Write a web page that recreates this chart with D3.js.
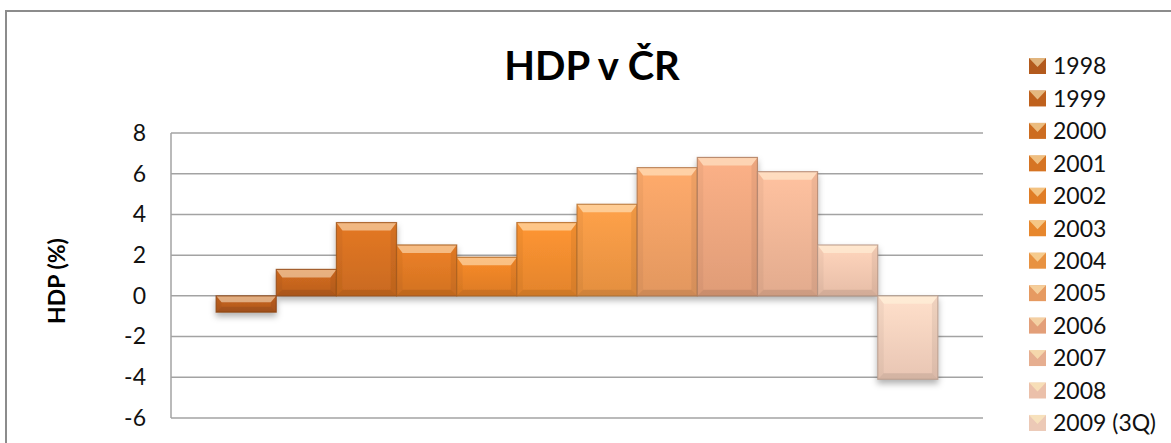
<!DOCTYPE html>
<html>
<head>
<meta charset="utf-8">
<script src="https://cdn.jsdelivr.net/npm/d3@7"></script>
<style>
  body { margin: 0; background: #fff; }
  svg { display: block; font-family: Lato, "Open Sans", sans-serif; }
</style>
</head>
<body>
<svg id="chart" width="1171" height="443"></svg>
<script>
// data
var years = ["1998", "1999", "2000", "2001", "2002", "2003", "2004", "2005", "2006", "2007", "2008", "2009 (3Q)"];
var growth = [-0.8, 1.3, 3.6, 2.5, 1.9, 3.6, 4.5, 6.3, 6.8, 6.1, 2.5, -4.1];
var yTicks = [-6, -4, -2, 0, 2, 4, 6, 8];
var colors = ["#bd5f1f", "#c9661f", "#d87222", "#e27a25", "#ec8428", "#f48e2f",
              "#f59a45", "#f3a266", "#efa880", "#f3b898", "#f8cbb3", "#f9d4c0"];

var svg = d3.select("#chart");

var plot = {left: 171, right: 983, top: 133, bottom: 418};

var x = d3.scaleBand()
    .domain(years)
    .range([plot.left, plot.right])
    .paddingInner(0)
    .paddingOuter(0.75);

var y = d3.scaleLinear()
    .domain([-6, 8])
    .range([plot.bottom, plot.top]);

// outer chart border
svg.append("rect")
    .attr("x", 6).attr("y", 11)
    .attr("width", 1200).attr("height", 460)
    .attr("fill", "none")
    .attr("stroke", "#8c8c8c")
    .attr("stroke-width", 2);

var defs = svg.append("defs");

var shadow = defs.append("filter")
    .attr("id", "shadow")
    .attr("x", "-20%").attr("y", "-20%")
    .attr("width", "140%").attr("height", "160%");
shadow.append("feDropShadow")
    .attr("dx", 0).attr("dy", 4)
    .attr("stdDeviation", 3)
    .attr("flood-color", "#000")
    .attr("flood-opacity", 0.3);

colors.forEach(function(c, i) {
  var g = defs.append("linearGradient")
      .attr("id", "grad" + i)
      .attr("x1", 0).attr("y1", 0).attr("x2", 0).attr("y2", 1);
  g.append("stop").attr("offset", "0%").attr("stop-color", d3.color(c).brighter(0.15));
  g.append("stop").attr("offset", "100%").attr("stop-color", d3.color(c).darker(0.2));
});

// gridlines
svg.append("g")
  .selectAll("line")
  .data(yTicks)
  .enter().append("line")
    .attr("x1", plot.left)
    .attr("x2", plot.right)
    .attr("y1", function(d) { return y(d); })
    .attr("y2", function(d) { return y(d); })
    .attr("stroke", "#a3a3a3")
    .attr("stroke-width", 1.5);

svg.append("line")
    .attr("x1", plot.left).attr("x2", plot.left)
    .attr("y1", plot.top).attr("y2", plot.bottom)
    .attr("stroke", "#a3a3a3")
    .attr("stroke-width", 1.5);

// y axis labels (plain hyphen for negatives, like the original)
var yAxis = d3.axisLeft(y)
    .tickValues(yTicks)
    .tickFormat(function(d) { return String(d); })
    .tickSize(0)
    .tickPadding(25);
var ya = svg.append("g")
    .attr("transform", "translate(" + plot.left + ",0)")
    .call(yAxis);
ya.select(".domain").remove();
ya.selectAll("text")
    .attr("font-family", "Lato, sans-serif")
    .attr("font-size", 23)
    .attr("fill", "#111");

// bars
var data = years.map(function(d, i) { return {year: d, value: growth[i], i: i}; });

var bars = svg.append("g").attr("filter", "url(#shadow)")
  .selectAll("g.bar")
  .data(data)
  .enter().append("g")
    .attr("class", "bar");

function box(d) {
  var x0 = x(d.year), x1 = x0 + x.bandwidth();
  var t = Math.min(y(0), y(d.value)), b = Math.max(y(0), y(d.value));
  return {x0: x0, x1: x1, t: t, b: b};
}

bars.append("rect")
    .attr("x", function(d) { return box(d).x0; })
    .attr("y", function(d) { return box(d).t; })
    .attr("width", x.bandwidth())
    .attr("height", function(d) { var r = box(d); return r.b - r.t; })
    .attr("fill", function(d) { return "url(#grad" + d.i + ")"; });

function bevel(side) {
  return function(d) {
    var r = box(d);
    var h = r.b - r.t;
    var bv = Math.min(8, h / 2.5), sv = Math.min(6, h / 3);
    var p;
    if (side == "top") p = [[r.x0, r.t], [r.x1, r.t], [r.x1 - sv, r.t + bv], [r.x0 + sv, r.t + bv]];
    if (side == "bottom") p = [[r.x0, r.b], [r.x1, r.b], [r.x1 - sv, r.b - sv], [r.x0 + sv, r.b - sv]];
    if (side == "left") p = [[r.x0, r.t], [r.x0 + sv, r.t + bv], [r.x0 + sv, r.b - sv], [r.x0, r.b]];
    if (side == "right") p = [[r.x1, r.t], [r.x1 - sv, r.t + bv], [r.x1 - sv, r.b - sv], [r.x1, r.b]];
    return p.join(" ");
  };
}

bars.append("polygon").attr("points", bevel("top")).attr("fill", "#fff8e0").attr("fill-opacity", 0.5);
bars.append("polygon").attr("points", bevel("bottom")).attr("fill", "#000").attr("fill-opacity", 0.09);
bars.append("polygon").attr("points", bevel("left")).attr("fill", "#000").attr("fill-opacity", 0.04);
bars.append("polygon").attr("points", bevel("right")).attr("fill", "#000").attr("fill-opacity", 0.06);

bars.append("rect")
    .attr("x", function(d) { return box(d).x0; })
    .attr("y", function(d) { return box(d).t; })
    .attr("width", x.bandwidth())
    .attr("height", function(d) { var r = box(d); return r.b - r.t; })
    .attr("fill", "none")
    .attr("stroke", function(d) { return d3.color(colors[d.i]).darker(0.9); })
    .attr("stroke-opacity", 0.8)
    .attr("stroke-width", 1.2);

// title
svg.append("text")
    .attr("x", 592)
    .attr("y", 80)
    .attr("text-anchor", "middle")
    .attr("font-family", "Lato, sans-serif")
    .attr("font-weight", "bold")
    .attr("font-size", 40)
    .attr("fill", "#000")
    .text("HDP v ČR");

// y axis title
svg.append("text")
    .attr("transform", "translate(65,281) rotate(-90)")
    .attr("text-anchor", "middle")
    .attr("font-family", "Lato, sans-serif")
    .attr("font-weight", "bold")
    .attr("font-size", 23)
    .attr("fill", "#000")
    .text("HDP (%)");

// legend
var legend = svg.append("g")
  .selectAll("g")
  .data(data)
  .enter().append("g")
    .attr("transform", function(d) { return "translate(1029," + (66 + d.i * 32.45) + ")"; });

legend.append("rect")
    .attr("x", 0).attr("y", -8)
    .attr("width", 17).attr("height", 16)
    .attr("fill", function(d) { return d3.color(colors[d.i]).darker(0.15); });

legend.append("polygon")
    .attr("points", "0,-8 17,-8 8.5,1")
    .attr("fill", "#fff2c0")
    .attr("fill-opacity", 0.6);

legend.append("text")
    .attr("x", 24)
    .attr("y", 0)
    .attr("dy", "0.36em")
    .attr("font-family", "Lato, sans-serif")
    .attr("font-size", 23)
    .attr("fill", "#111")
    .text(function(d) { return d.year; });
</script>
</body>
</html>
